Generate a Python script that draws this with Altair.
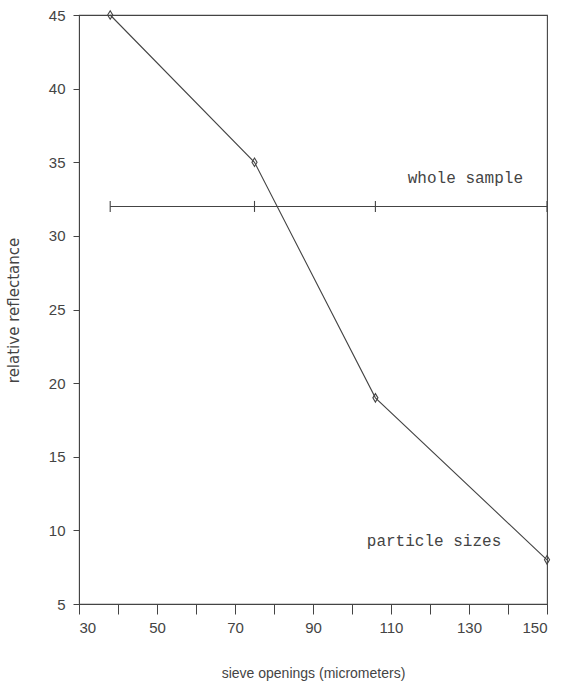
import altair as alt
import pandas as pd

# particle-size fractions
sieve = [38, 75, 106, 150]
reflect_particles = [45, 35, 19, 8]
# whole sample reference
reflect_whole = [32, 32, 32, 32]

# annotation labels
label_text = ["whole sample", "particle sizes"]
label_x = [114.3, 103.8]
label_y = [33.9, 9.3]

x_ticks = list(range(30, 151, 10))
y_ticks = list(range(5, 46, 5))

df_p = pd.DataFrame({"x": sieve, "y": reflect_particles})
df_w = pd.DataFrame({"x": sieve, "y": reflect_whole})
df_l = pd.DataFrame({"t": label_text, "x": label_x, "y": label_y})

INK = "#444444"

xs = alt.Scale(domain=[30, 150], nice=False, zero=False)
ys = alt.Scale(domain=[5, 45], nice=False, zero=False)

xax = alt.Axis(
    values=x_ticks, labelExpr="(datum.value - 30) % 20 == 0 ? datum.label : ''",
    tickSize=10, labelPadding=6, grid=False, title="sieve openings (micrometers)",
    titleY=69, titleBaseline="middle", titleFont="Liberation Sans", titleFontSize=14,
    titleFontWeight="normal", titleColor=INK,
    labelFont="Liberation Sans", labelFontSize=15, labelColor=INK,
    domainColor=INK, tickColor=INK,
)
yax = alt.Axis(
    values=y_ticks, tickSize=6, labelPadding=8, grid=False, title="relative reflectance",
    titleX=-66, titleY=295, titleAngle=-90, titleAlign="center", titleBaseline="middle",
    titleFont="DejaVu Sans", titleFontSize=15, titleFontWeight="normal", titleColor=INK,
    labelFont="Liberation Sans", labelFontSize=15, labelColor=INK,
    domainColor=INK, tickColor=INK,
)

X = alt.X("x:Q", scale=xs, axis=xax)
Y = alt.Y("y:Q", scale=ys, axis=yax)

p_line = alt.Chart(df_p).mark_line(color=INK, strokeWidth=1.1).encode(x=X, y=Y)
p_pts = alt.Chart(df_p).mark_point(
    shape="M0,-1L0.6,0L0,1L-0.6,0Z", size=72, filled=False, color=INK, strokeWidth=1.1, opacity=1
).encode(x=X, y=Y)

w_line = alt.Chart(df_w).mark_line(color=INK, strokeWidth=1.1).encode(x=X, y=Y)
w_pts = alt.Chart(df_w).mark_point(
    shape="M0,-1L0,1", size=121, filled=False, color=INK, strokeWidth=1.1, opacity=1
).encode(x=X, y=Y)

labels = alt.Chart(df_l).mark_text(
    align="left", baseline="middle", font="Liberation Mono", fontSize=16, color=INK
).encode(x=X, y=Y, text="t:N")

chart = alt.layer(w_line, w_pts, p_line, p_pts, labels).properties(
    width=468, height=589,
    autosize=alt.AutoSizeParams(type="none"),
    padding={"left": 79, "top": 15, "right": 14, "bottom": 81},
    background="white",
).configure_view(stroke=INK, strokeWidth=1.1)

chart.save("out.html", embed_options={"renderer": "svg", "actions": False})
